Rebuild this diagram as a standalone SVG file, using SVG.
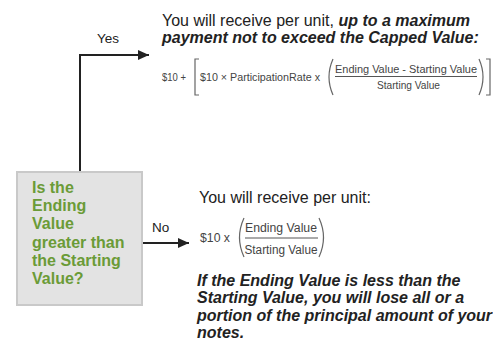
<svg xmlns="http://www.w3.org/2000/svg" width="493" height="341" viewBox="0 0 493 341">
<defs>
<style>
.t{font-family:"Liberation Sans",Arial,sans-serif;fill:#222}
.main{font-size:16px}
.bi{font-weight:bold;font-style:italic}
.lbl{font-size:13.5px}
.q{font-family:"Liberation Sans",Arial,sans-serif;font-size:16px;font-weight:bold;fill:#6b9b37}
.f{font-family:"Liberation Sans",Arial,sans-serif;fill:#444}
.d{fill:none;stroke:#666;stroke-width:1.2}
.fl{stroke:#555;stroke-width:1}
.con{fill:none;stroke:#222;stroke-width:2}
</style>
<marker id="ah" markerUnits="userSpaceOnUse" markerWidth="12" markerHeight="10" refX="11" refY="5" orient="auto">
<path d="M0,0 L11,5 L0,10 Z" fill="#222"/>
</marker>
</defs>
<rect width="493" height="341" fill="#ffffff"/>

<g id="connectors">
<polyline class="con" points="80,172 80,55 149,55" marker-end="url(#ah)"/>
<line class="con" x1="142" y1="243" x2="189" y2="243" marker-end="url(#ah)"/>
<text class="t lbl" x="97" y="43">Yes</text>
<text class="t lbl" x="152" y="232">No</text>
</g>

<g id="decision">
<rect x="17" y="172" width="125" height="133" fill="#e3e3e3" stroke="#c9c9c9" stroke-width="2"/>
<text class="q" x="32" y="193">Is the</text>
<text class="q" x="32" y="211.2">Ending</text>
<text class="q" x="32" y="229.4">Value</text>
<text class="q" x="32" y="247.6">greater than</text>
<text class="q" x="32" y="265.8">the Starting</text>
<text class="q" x="32" y="284">Value?</text>
</g>

<g id="yes-outcome">
<text class="t main" x="162" y="26">You will receive per unit, <tspan class="bi">up to a maximum</tspan></text>
<text class="t main bi" x="162" y="42.5">payment not to exceed the Capped Value:</text>
<text class="f" x="162" y="81" font-size="11" textLength="24" lengthAdjust="spacingAndGlyphs">$10 +</text>
<polyline class="d" points="199,59 195,59 195,95 199,95"/>
<text class="f" x="200" y="81" font-size="11" textLength="120" lengthAdjust="spacingAndGlyphs">$10 × ParticipationRate x</text>
<path class="d" d="M333,59 Q325,77 333,95"/>
<text class="f" x="406" y="73" font-size="11" text-anchor="middle" textLength="142" lengthAdjust="spacingAndGlyphs">Ending Value - Starting Value</text>
<line class="fl" x1="335" y1="76.5" x2="477" y2="76.5"/>
<text class="f" x="408.5" y="88.5" font-size="11" text-anchor="middle" textLength="63" lengthAdjust="spacingAndGlyphs">Starting Value</text>
<path class="d" d="M479,59 Q487,77 479,95"/>
<polyline class="d" points="486,59 490,59 490,95 486,95"/>
</g>

<g id="no-outcome">
<text class="t main" x="199" y="203">You will receive per unit:</text>
<text class="f" x="200" y="242" font-size="12.3" textLength="30" lengthAdjust="spacingAndGlyphs">$10 x</text>
<path class="d" d="M244,218 Q235,237.5 244,257"/>
<text class="f" x="281" y="232" font-size="12.3" text-anchor="middle" textLength="72" lengthAdjust="spacingAndGlyphs">Ending Value</text>
<line class="fl" x1="245" y1="238" x2="318" y2="238"/>
<text class="f" x="281" y="253.5" font-size="12.3" text-anchor="middle" textLength="73" lengthAdjust="spacingAndGlyphs">Starting Value</text>
<path class="d" d="M319,218 Q328,237.5 319,257"/>
<text class="t main bi" x="197" y="285.5">If the Ending Value is less than the</text>
<text class="t main bi" x="197" y="303">Starting Value, you will lose all or a</text>
<text class="t main bi" x="197" y="320.5">portion of the principal amount of your</text>
<text class="t main bi" x="197" y="338">notes.</text>
</g>
</svg>
